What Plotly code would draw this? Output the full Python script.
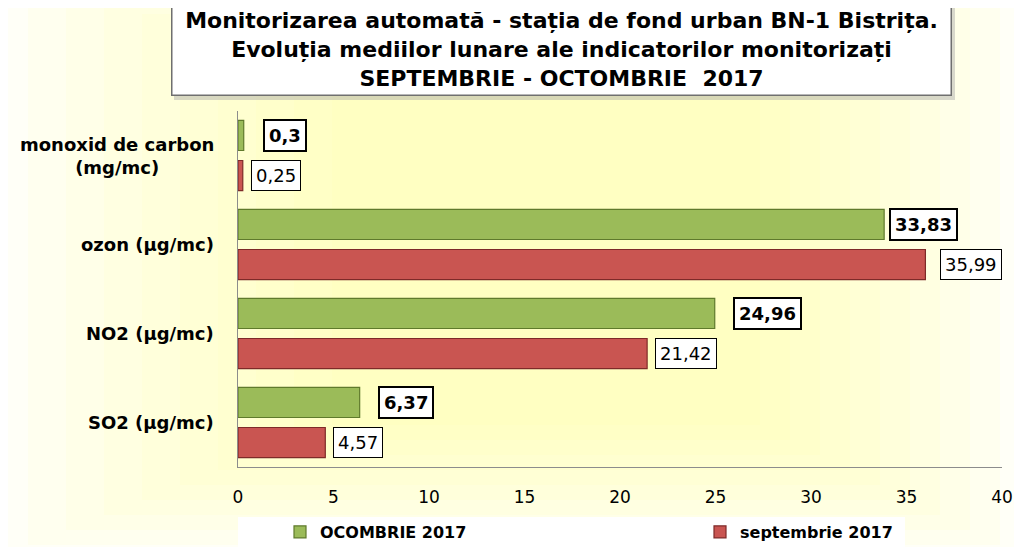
import plotly.graph_objects as go

# ---------------- data ----------------
categories = ["monoxid de carbon<br>(mg/mc)", "ozon (µg/mc)", "NO2 (µg/mc)", "SO2 (µg/mc)"]
oct_values = [0.3, 33.83, 24.96, 6.37]
sep_values = [0.25, 35.99, 21.42, 4.57]
oct_name = "OCOMBRIE 2017"
sep_name = "septembrie 2017"
x_ticks = [0, 5, 10, 15, 20, 25, 30, 35, 40]
title_lines = [
    "Monitorizarea automată - stația de fond urban BN-1 Bistrița.",
    "Evoluția mediilor lunare ale indicatorilor monitorizați",
    "SEPTEMBRIE - OCTOMBRIE\u00a0\u00a02017",
]

# ---------------- style ----------------
W, H = 1022, 547
OFF = 8  # page body margin: screen pixel = figure pixel + OFF
PLOT_X0, PLOT_X1, PLOT_Y0, PLOT_Y1 = 238, 1002, 111, 467  # plot area in screen pixels
L, T = PLOT_X0 - OFF, PLOT_Y0 - OFF
R, B = W - (PLOT_X1 - OFF), H - (PLOT_Y1 - OFF)
PW, PH = PLOT_X1 - PLOT_X0, PLOT_Y1 - PLOT_Y0
GREEN, GREEN_DARK = "#9BBB59", "#5F7A2C"
RED, RED_DARK = "#C95551", "#7E2A28"
FONT = "DejaVu Sans"
oct_shift = [19, 5, 18, 18]
sep_shift = [8, 15, 8, 8]


def px_x(p):
    return (p - PLOT_X0) / PW


def px_y(p):
    return (PLOT_Y1 - p) / PH


def fmt(v):
    return f"{v:g}".replace(".", ",")


fig = go.Figure()
fig.add_trace(go.Bar(
    y=categories, x=sep_values, orientation="h", name=sep_name, legend="legend2",
    marker=dict(color=RED, line=dict(color=RED_DARK, width=1.2)),
    hoverinfo="skip",
))
fig.add_trace(go.Bar(
    y=categories, x=oct_values, orientation="h", name=oct_name, legend="legend",
    marker=dict(color=GREEN, line=dict(color=GREEN_DARK, width=1.2)),
    hoverinfo="skip",
))

shapes = []
# background gradient (light yellow centre fading to white at edges)
n = 10
for k in range(n):
    f = k / n
    x0 = px_x(-10 + f * 380)
    x1 = px_x(1030 - f * 300)
    y0 = px_y(560 - f * 150)
    y1 = px_y(-10 + f * 60)
    shapes.append(dict(type="rect", xref="paper", yref="paper", x0=x0, x1=x1, y0=y0, y1=y1,
                       fillcolor="#FFFF99", opacity=0.075, line=dict(width=0), layer="below"))
# legend white box
shapes.append(dict(type="rect", xref="paper", yref="paper", x0=px_x(238), x1=px_x(905),
                   y0=px_y(560), y1=px_y(517), fillcolor="white", line=dict(width=0), layer="below"))
# title shadow
shapes.append(dict(type="rect", xref="paper", yref="paper", x0=px_x(174), x1=px_x(955),
                   y0=px_y(100), y1=px_y(7), fillcolor="#a8a8a8", opacity=0.45,
                   line=dict(width=0), layer="above"))

annotations = []
# title box
annotations.append(dict(
    xref="paper", yref="paper", x=px_x(561), y=px_y(50), xanchor="center", yanchor="middle",
    text="<br>".join(f"<b>{t}</b>" for t in title_lines), showarrow=False,
    font=dict(family=FONT, size=22, color="black"),
    width=778, height=90, bgcolor="white", bordercolor="#6f6f6f", borderwidth=1.5,
    borderpad=0, align="center",
))
# category labels
for c in categories:
    annotations.append(dict(
        xref="paper", yref="y", x=0, y=c, xanchor="right", yanchor="middle", xshift=-22,
        text=f"<b>{c}</b>", showarrow=False, align="center",
        font=dict(family=FONT, size=18, color="black"),
    ))
# value labels
for c, v, s in zip(categories, oct_values, oct_shift):
    annotations.append(dict(
        x=v, y=c, xref="x", yref="y", xanchor="left", yanchor="middle", xshift=s, yshift=20,
        text=f"<b>{fmt(v)}</b>", showarrow=False,
        font=dict(family=FONT, size=18, color="black"),
        bgcolor="white", bordercolor="black", borderwidth=2, borderpad=4,
    ))
for c, v, s in zip(categories, sep_values, sep_shift):
    annotations.append(dict(
        x=v, y=c, xref="x", yref="y", xanchor="left", yanchor="middle", xshift=s, yshift=-20,
        text=fmt(v), showarrow=False,
        font=dict(family=FONT, size=18, color="black"),
        bgcolor="white", bordercolor="black", borderwidth=1, borderpad=4,
    ))

legend_style = dict(
    orientation="h", yanchor="middle", xanchor="left", bgcolor="rgba(0,0,0,0)",
    font=dict(family=FONT, size=16, color="black", weight="bold"),
    itemwidth=30,
)

fig.update_layout(
    width=W, height=H,
    margin=dict(l=L, r=R, t=T, b=B, pad=0, autoexpand=False),
    paper_bgcolor="white", plot_bgcolor="rgba(0,0,0,0)",
    barmode="group", bargap=0.1, bargroupgap=0.25,
    shapes=shapes, annotations=annotations,
    showlegend=True,
    legend=dict(legend_style, x=px_x(280), y=px_y(532)),
    legend2=dict(legend_style, x=px_x(700), y=px_y(532)),
    xaxis=dict(
        range=[0, 40], tickvals=x_ticks, ticktext=[str(t) for t in x_ticks],
        showgrid=False, zeroline=False, showline=True, linecolor="#8c8c8c", linewidth=1.2,
        ticks="", tickfont=dict(family=FONT, size=17, color="black"), ticklabelstandoff=14,
        fixedrange=True,
    ),
    yaxis=dict(
        categoryorder="array", categoryarray=categories[::-1],
        showgrid=False, zeroline=False, showline=True, linecolor="#8c8c8c", linewidth=1.2,
        ticks="", showticklabels=False, fixedrange=True,
    ),
)

fig.write_html("out.html")
